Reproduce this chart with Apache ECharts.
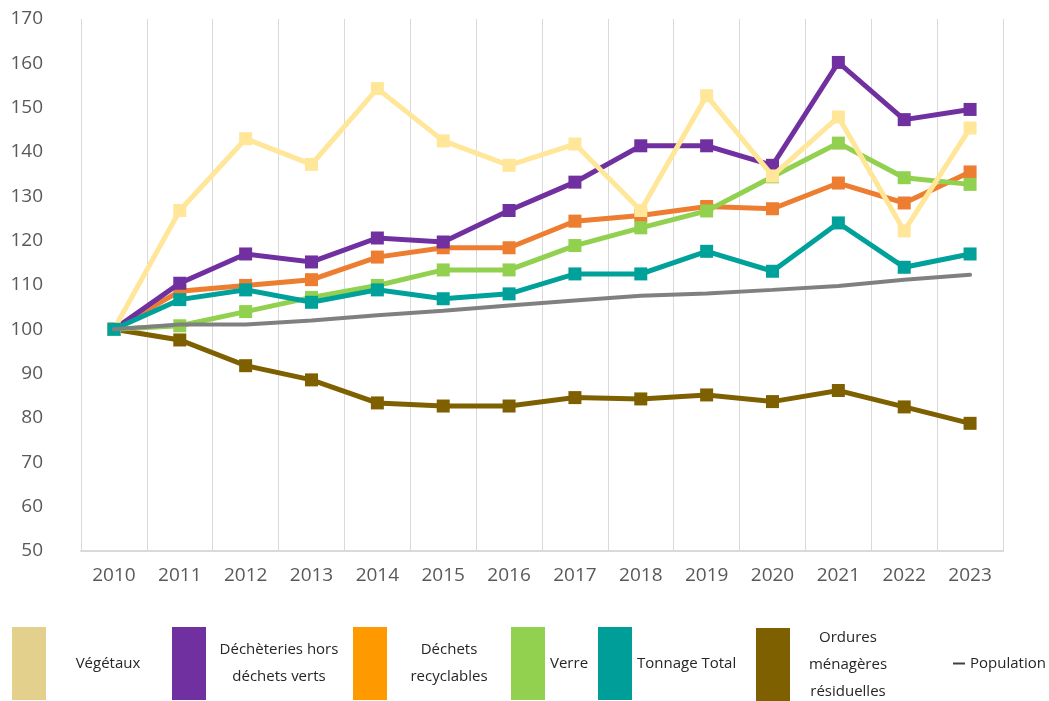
<!DOCTYPE html>
<html>
<head>
<meta charset="utf-8">
<script src="https://cdn.jsdelivr.net/npm/echarts@6/dist/echarts.min.js"></script>
<style>html,body{margin:0;padding:0;background:#fff}#c{width:1049px;height:701px}</style>
</head>
<body>
<div id="c"></div>
<script>
var years = ['2010','2011','2012','2013','2014','2015','2016','2017','2018','2019','2020','2021','2022','2023'];
var vegetaux    = [100, 126.8, 143.0, 137.2, 154.3, 142.5, 137.0, 141.8, 126.8, 152.7, 134.6, 147.9, 122.2, 145.4];
var decheteries = [100, 110.4, 117.0, 115.2, 120.6, 119.7, 126.8, 133.2, 141.4, 141.4, 137.0, 160.2, 147.3, 149.6];
var recyclables = [100, 108.6, 109.9, 111.2, 116.3, 118.4, 118.4, 124.4, 125.7, 127.7, 127.2, 133.0, 128.5, 135.5];
var verre       = [100, 100.8, 104.0, 107.2, 109.9, 113.4, 113.4, 118.9, 122.9, 126.7, 134.4, 142.0, 134.2, 132.7];
var tonnage     = [100, 106.7, 108.9, 106.1, 108.9, 106.9, 108.0, 112.5, 112.5, 117.6, 113.1, 124.0, 114.0, 117.0];
var omr         = [100, 97.6, 91.8, 88.6, 83.4, 82.7, 82.7, 84.6, 84.3, 85.2, 83.7, 86.2, 82.5, 78.8];
var population  = [100, 101.1, 101.1, 102.0, 103.2, 104.2, 105.4, 106.5, 107.6, 108.1, 108.9, 109.8, 111.2, 112.3];

var names = {
  veg: 'Végétaux',
  dec: 'Déchèteries hors déchets verts',
  rec: 'Déchets recyclables',
  ver: 'Verre',
  ton: 'Tonnage Total',
  omr: 'Ordures ménagères résiduelles',
  pop: 'Population'
};
var legendLines = {};
legendLines[names.veg] = ['Végétaux'];
legendLines[names.dec] = ['Déchèteries hors', 'déchets verts'];
legendLines[names.rec] = ['Déchets', 'recyclables'];
legendLines[names.ver] = ['Verre'];
legendLines[names.ton] = ['Tonnage Total'];
legendLines[names.omr] = ['Ordures', 'ménagères', 'résiduelles'];
legendLines[names.pop] = ['Population'];

var FONT = '"Open Sans", "Noto Sans", sans-serif';

function mkLegend(name, left, top, swatch, textW, align, icon, iw, ih) {
  return {
    show: true,
    left: left,
    top: top,
    padding: 0,
    orient: 'horizontal',
    itemWidth: iw || 34,
    itemHeight: ih || 73,
    itemGap: 0,
    selectedMode: false,
    data: [{ name: name, icon: icon || 'rect', itemStyle: { color: swatch, borderWidth: 0 } }],
    formatter: function (n) {
      return legendLines[n].map(function (l) { return '{t|' + l + '}'; }).join('\n');
    },
    textStyle: {
      rich: {
        t: { fontFamily: FONT, fontSize: 15, color: '#262626', lineHeight: 27, width: textW, align: align }
      }
    }
  };
}

function lineSeries(name, data, color, z) {
  return {
    name: name,
    type: 'line',
    data: data,
    z: z,
    symbol: 'rect',
    symbolSize: 13,
    showSymbol: true,
    lineStyle: { color: color, width: 5, join: 'miter' },
    itemStyle: { color: color, borderWidth: 0 },
    emphasis: { disabled: true },
    animation: false
  };
}

var chart = echarts.init(document.getElementById('c'), null, { renderer: 'canvas' });
chart.setOption({
  backgroundColor: '#ffffff',
  animation: false,
  grid: { left: 81, right: 46, top: 19, bottom: 150, containLabel: false },
  xAxis: {
    type: 'category',
    data: years,
    boundaryGap: true,
    axisLine: { show: true, lineStyle: { color: '#D9D9D9', width: 2 } },
    axisTick: { show: false },
    splitLine: { show: true, lineStyle: { color: '#D9D9D9', width: 1 } },
    axisLabel: { fontFamily: FONT, fontSize: 19, color: '#595959', margin: 15 }
  },
  yAxis: {
    type: 'value',
    min: 50,
    max: 170,
    interval: 10,
    axisLine: { show: false },
    axisTick: { show: false },
    splitLine: { show: false },
    axisLabel: { fontFamily: FONT, fontSize: 19, color: '#595959', margin: 38 }
  },
  legend: [
    mkLegend(names.veg, 12, 627, '#E3D08C', 114, 'center'),
    mkLegend(names.dec, 172, 627, '#7030A0', 136, 'center'),
    mkLegend(names.rec, 353, 627, '#FF9900', 114, 'center'),
    mkLegend(names.ver, 511, 627, '#92D050', 45, 'left'),
    mkLegend(names.ton, 598, 627, '#009E99', 112, 'left'),
    mkLegend(names.omr, 756, 628, '#7F6000', 106, 'center'),
    mkLegend(names.pop, 953, 656, '#404040', 80, 'left', 'rect', 12, 2)
  ],
  series: [
    lineSeries(names.omr, omr, '#7F6000', 2),
    lineSeries(names.rec, recyclables, '#ED7D31', 3),
    lineSeries(names.dec, decheteries, '#7030A0', 4),
    lineSeries(names.ver, verre, '#92D050', 5),
    lineSeries(names.veg, vegetaux, '#FFE699', 6),
    lineSeries(names.ton, tonnage, '#00A19A', 7),
    {
      name: names.pop,
      type: 'line',
      data: population,
      z: 8,
      symbol: 'none',
      showSymbol: false,
      lineStyle: { color: '#808080', width: 4, cap: 'round' },
      itemStyle: { color: '#808080' },
      emphasis: { disabled: true },
      animation: false
    }
  ]
});
</script>
</body>
</html>
